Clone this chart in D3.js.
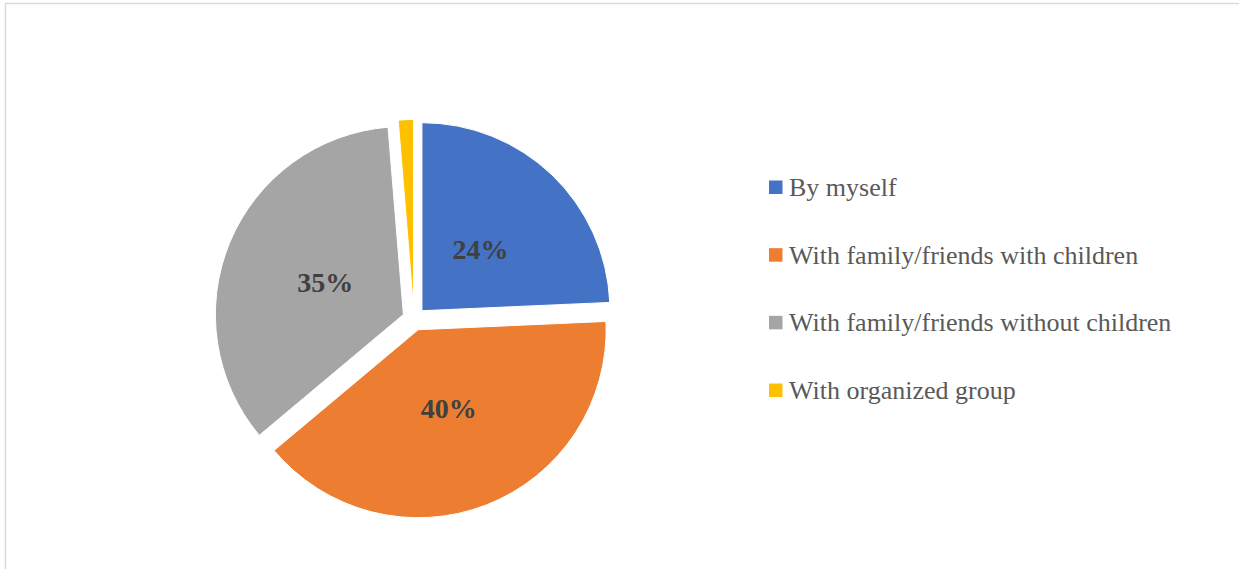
<!DOCTYPE html>
<html>
<head>
<meta charset="utf-8">
<script src="https://cdn.jsdelivr.net/npm/d3@7"></script>
<style>
  html, body { margin: 0; padding: 0; background: #fff; }
</style>
</head>
<body>
<script>
var categories = ["By myself", "With family/friends with children", "With family/friends without children", "With organized group"];
var shares = [24.3, 39.6, 34.8, 1.3];
var colors = ["#4472c4", "#ed7d31", "#a5a5a5", "#ffc000"];

var width = 1239, height = 569;
var cx = 414, cy = 319, radius = 188, explode = 11.5;

var svg = d3.select("body").append("svg")
    .attr("width", width)
    .attr("height", height);

// chart frame (cut off at right and bottom)
svg.append("rect")
    .attr("x", 5.5).attr("y", 3.5)
    .attr("width", width + 20).attr("height", height + 20)
    .attr("fill", "none")
    .attr("stroke", "#d9d9d9")
    .attr("stroke-width", 1.5);

var pie = d3.pie().sort(null).value(function(d){ return d; });
var arcs = pie(shares);
var arc = d3.arc().innerRadius(0).outerRadius(radius);
var total = d3.sum(shares);

var g = svg.append("g").attr("transform", "translate(" + cx + "," + cy + ")");

function offset(d, k) {
  var a = (d.startAngle + d.endAngle) / 2;
  return [Math.sin(a) * k, -Math.cos(a) * k];
}

g.selectAll("path")
    .data(arcs)
    .enter().append("path")
      .attr("d", arc)
      .attr("fill", function(d,i){ return colors[i]; })
      .attr("stroke", "#fff")
      .attr("stroke-width", 1)
      .attr("transform", function(d){ var o = offset(d, explode); return "translate(" + o[0] + "," + o[1] + ")"; });

var pct = d3.format(".0%");
g.selectAll("text.lbl")
    .data(arcs.filter(function(d){ return d.value / total > 0.05; }))
    .enter().append("text")
      .attr("class", "lbl")
      .attr("x", function(d){ return offset(d, explode + radius * 0.45)[0]; })
      .attr("y", function(d){ return offset(d, explode + radius * 0.45)[1]; })
      .attr("dy", "0.35em")
      .attr("text-anchor", "middle")
      .attr("font-family", "'Liberation Serif', 'Times New Roman', serif")
      .attr("font-weight", "bold")
      .attr("font-size", "28px")
      .attr("fill", "#404040")
      .text(function(d){ return pct(d.value / total); });

// legend
var legendY = d3.scalePoint().domain(categories).range([187, 390]);

var legend = svg.selectAll("g.legend")
    .data(categories)
    .enter().append("g")
      .attr("class", "legend")
      .attr("transform", function(d){ return "translate(769," + legendY(d) + ")"; });

legend.append("rect")
    .attr("x", 0).attr("y", -6.5)
    .attr("width", 13.5).attr("height", 13.5)
    .attr("fill", function(d,i){ return colors[i]; });

legend.append("text")
    .attr("x", 20).attr("y", 0)
    .attr("dy", "0.35em")
    .attr("font-family", "'Liberation Serif', 'Times New Roman', serif")
    .attr("font-size", "26px")
    .attr("fill", "#595959")
    .text(function(d){ return d; });
</script>
</body>
</html>
